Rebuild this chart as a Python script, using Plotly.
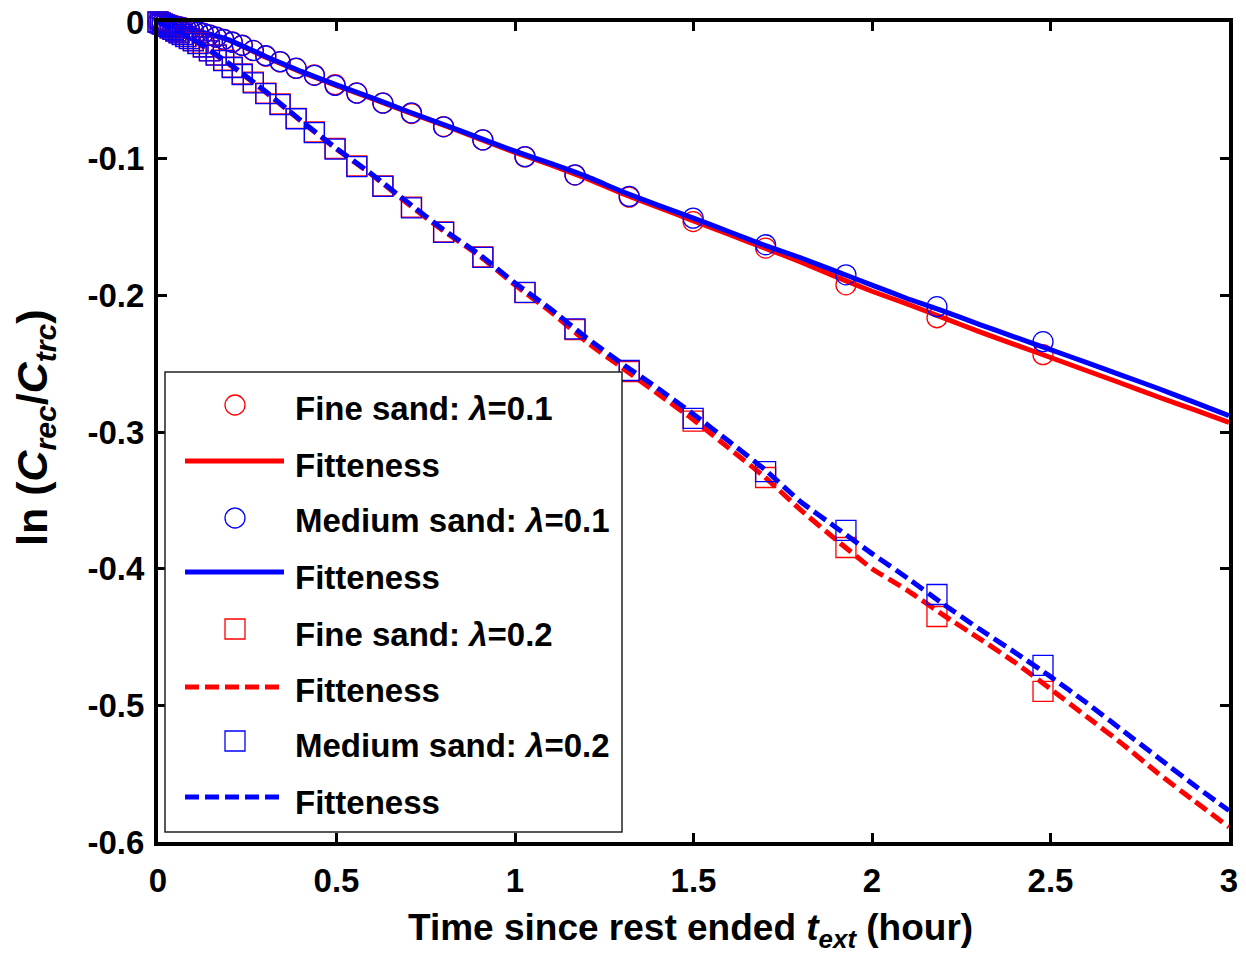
import plotly.graph_objects as go

# ---------------- data ----------------
t_obs = [0.000, 0.006, 0.012, 0.019, 0.026, 0.034, 0.042, 0.050, 0.059, 0.068,
         0.078, 0.088, 0.099, 0.112, 0.127, 0.144, 0.163, 0.184, 0.208, 0.236,
         0.267, 0.302, 0.342, 0.387, 0.438, 0.496, 0.557, 0.630, 0.710, 0.800,
         0.910, 1.028, 1.168, 1.320, 1.499, 1.702, 1.927, 2.182, 2.479]

fine_01 = [0, -0.0003, -0.0006, -0.0010, -0.0014, -0.0019, -0.0024, -0.0029, -0.0034, -0.0040,
           -0.0046, -0.0053, -0.0061, -0.0071, -0.0082, -0.0095, -0.0110, -0.0127, -0.0146, -0.0170,
           -0.0210, -0.0250, -0.0292, -0.0340, -0.0387, -0.0458, -0.0519, -0.0592, -0.0670, -0.0765,
           -0.0863, -0.0987, -0.1120, -0.1282, -0.1460, -0.1654, -0.1923, -0.2164, -0.2434]

medium_01 = [0, -0.0003, -0.0007, -0.0011, -0.0015, -0.0020, -0.0025, -0.0030, -0.0036, -0.0042,
             -0.0048, -0.0055, -0.0063, -0.0072, -0.0083, -0.0096, -0.0111, -0.0128, -0.0148, -0.0171,
             -0.0208, -0.0247, -0.0290, -0.0338, -0.0390, -0.0464, -0.0521, -0.0594, -0.0665, -0.0767,
             -0.0863, -0.0985, -0.1118, -0.1276, -0.1435, -0.1630, -0.1850, -0.2083, -0.2339]

fine_02 = [0, -0.0007, -0.0014, -0.0022, -0.0031, -0.0042, -0.0053, -0.0064, -0.0077, -0.0090,
           -0.0105, -0.0120, -0.0135, -0.0155, -0.0180, -0.0210, -0.0240, -0.0280, -0.0330, -0.0380,
           -0.0440, -0.0520, -0.0600, -0.0705, -0.0805, -0.0925, -0.1053, -0.1199, -0.1355, -0.1535,
           -0.1718, -0.1980, -0.2251, -0.2558, -0.2920, -0.3333, -0.3845, -0.4350, -0.4898]

medium_02 = [0, -0.0007, -0.0015, -0.0023, -0.0032, -0.0043, -0.0054, -0.0066, -0.0079, -0.0092,
             -0.0107, -0.0122, -0.0138, -0.0158, -0.0183, -0.0212, -0.0243, -0.0283, -0.0333, -0.0384,
             -0.0445, -0.0524, -0.0604, -0.0708, -0.0810, -0.0930, -0.1058, -0.1203, -0.1360, -0.1540,
             -0.1722, -0.1978, -0.2245, -0.2550, -0.2900, -0.3290, -0.3720, -0.4189, -0.4708]

t_fit = [0.0, 0.1, 0.2, 0.3, 0.4, 0.5, 0.6, 0.7, 0.8, 0.9, 1.0, 1.1, 1.2, 1.3, 1.4, 1.5,
         1.6, 1.7, 1.8, 1.9, 2.0, 2.1, 2.2, 2.3, 2.4, 2.5, 2.6, 2.7, 2.8, 2.9, 3.0]

fit_fine_01 = [0, -0.0060, -0.0135, -0.0255, -0.0365, -0.0465, -0.0560, -0.0660, -0.0755, -0.0855,
               -0.0955, -0.1045, -0.1145, -0.1255, -0.1355, -0.1455, -0.1555, -0.1655, -0.1755, -0.1865,
               -0.1970, -0.2065, -0.2165, -0.2265, -0.2360, -0.2455, -0.2550, -0.2645, -0.2742, -0.2835,
               -0.2930]

fit_medium_01 = [0, -0.0058, -0.0132, -0.0250, -0.0360, -0.0460, -0.0555, -0.0655, -0.0750, -0.0848,
                 -0.0945, -0.1035, -0.1130, -0.1240, -0.1340, -0.1435, -0.1535, -0.1635, -0.1725, -0.1825,
                 -0.1925, -0.2025, -0.2115, -0.2212, -0.2305, -0.2398, -0.2490, -0.2585, -0.2680, -0.2780,
                 -0.2880]

fit_fine_02 = [0, -0.0135, -0.0310, -0.0510, -0.0725, -0.0930, -0.1120, -0.1330, -0.1530, -0.1710,
               -0.1925, -0.2120, -0.2340, -0.2530, -0.2720, -0.2910, -0.3120, -0.3330, -0.3570, -0.3790,
               -0.4000, -0.4160, -0.4340, -0.4510, -0.4685, -0.4880, -0.5080, -0.5280, -0.5495, -0.5695,
               -0.5890]

fit_medium_02 = [0, -0.0130, -0.0305, -0.0505, -0.0720, -0.0925, -0.1115, -0.1320, -0.1520, -0.1700,
                 -0.1910, -0.2100, -0.2310, -0.2500, -0.2680, -0.2870, -0.3070, -0.3275, -0.3510, -0.3700,
                 -0.3890, -0.4070, -0.4260, -0.4440, -0.4612, -0.4790, -0.4980, -0.5180, -0.5380, -0.5580,
                 -0.5770]

x_ticks = [0, 0.5, 1, 1.5, 2, 2.5, 3]
x_ticklabels = ["0", "0.5", "1", "1.5", "2", "2.5", "3"]
y_ticks = [0, -0.1, -0.2, -0.3, -0.4, -0.5, -0.6]
y_ticklabels = ["0", "-0.1", "-0.2", "-0.3", "-0.4", "-0.5", "-0.6"]

legend_labels = ["Fine sand: <i>λ</i>=0.1", "Fitteness", "Medium sand: <i>λ</i>=0.1", "Fitteness",
                 "Fine sand: <i>λ</i>=0.2", "Fitteness", "Medium sand: <i>λ</i>=0.2", "Fitteness"]

# ---------------- styling ----------------
RED = "#ff0000"
BLUE = "#0000ff"
FONT = "Liberation Sans, Arial, sans-serif"
DASH = "14px,6px"

fig = go.Figure()


def markers(y, color, symbol):
    fig.add_trace(go.Scatter(x=t_obs, y=y, mode="markers", cliponaxis=False, showlegend=False,
                             marker=dict(symbol=symbol, size=20, color=color,
                                         line=dict(color=color, width=1.3))))


def fitline(y, color, dash):
    fig.add_trace(go.Scatter(x=t_fit, y=y, mode="lines", cliponaxis=False, showlegend=False,
                             line=dict(color=color, width=5, dash=dash, shape="spline", smoothing=0.4)))


markers(fine_01, RED, "circle-open")
fitline(fit_fine_01, RED, "solid")
markers(medium_01, BLUE, "circle-open")
fitline(fit_medium_01, BLUE, "solid")
markers(fine_02, RED, "square-open")
fitline(fit_fine_02, RED, DASH)
markers(medium_02, BLUE, "square-open")
fitline(fit_medium_02, BLUE, DASH)

axis_common = dict(showline=True, linecolor="black", linewidth=4, mirror="ticks",
                   ticks="inside", ticklen=9, tickwidth=3, tickcolor="black",
                   showgrid=False, zeroline=False,
                   tickfont=dict(family=FONT, size=33, color="black", weight="bold"))

fig.update_xaxes(range=[0, 3], tickvals=x_ticks, ticktext=x_ticklabels,
                 ticklabelstandoff=6, **axis_common)
fig.update_yaxes(range=[-0.6, 0], tickvals=y_ticks, ticktext=y_ticklabels,
                 ticklabelstandoff=3, **axis_common)

# ---------------- manual legend ----------------
L, R, T, B = 158, 1229, 22, 842


def xp(px):
    return (px - L) / (R - L)


def yp(py):
    return (B - py) / (B - T)


shapes = [dict(type="rect", xref="paper", yref="paper", x0=xp(165), x1=xp(622), y0=yp(832), y1=yp(372),
               line=dict(color="#222222", width=1.5), fillcolor="white", layer="above")]
row_sym = [405, 461, 518, 572, 629, 687, 741, 797]
row_txt = [408, 465, 520, 577, 634, 690, 745, 802]
kinds = [("circle", RED), ("line", RED, "solid"), ("circle", BLUE), ("line", BLUE, "solid"),
         ("rect", RED), ("line", RED, "dash"), ("rect", BLUE), ("line", BLUE, "dash")]
annotations = []
for k, ys, yt, lab in zip(kinds, row_sym, row_txt, legend_labels):
    if k[0] == "line":
        shapes.append(dict(type="line", xref="paper", yref="paper", x0=xp(185),
                           x1=xp(284 if k[2] == "solid" else 280), y0=yp(ys), y1=yp(ys),
                           line=dict(color=k[1], width=5, dash="solid" if k[2] == "solid" else DASH),
                           layer="above"))
    else:
        shapes.append(dict(type=k[0], xref="paper", yref="paper", xsizemode="pixel", ysizemode="pixel",
                           xanchor=xp(235), yanchor=yp(ys), x0=-10, x1=10, y0=-10, y1=10,
                           line=dict(color=k[1], width=1.3), fillcolor="rgba(0,0,0,0)", layer="above"))
    annotations.append(dict(xref="paper", yref="paper", x=xp(293), y=yp(yt), xanchor="left", yanchor="middle",
                            text=lab, showarrow=False,
                            font=dict(family=FONT, size=33, color="black", weight="bold")))

# axis titles
annotations.append(dict(xref="paper", yref="paper", x=xp(690), y=yp(930), xanchor="center", yanchor="middle",
                        text="Time since rest ended <i>t</i><sub><i>ext</i></sub> (hour)", showarrow=False,
                        font=dict(family=FONT, size=37, color="black", weight="bold")))
annotations.append(dict(xref="paper", yref="paper", x=xp(35), y=yp(428), xanchor="center", yanchor="middle",
                        textangle=-90,
                        text="ln (<i>C</i><sub><i>rec</i></sub>/<i>C</i><sub><i>trc</i></sub>)", showarrow=False,
                        font=dict(family=FONT, size=43, color="black", weight="bold")))

fig.update_layout(width=1246, height=966, paper_bgcolor="white", plot_bgcolor="white",
                  margin=dict(l=L, r=1246 - R, t=T, b=966 - B, autoexpand=False),
                  showlegend=False, shapes=shapes, annotations=annotations)

fig.write_html("out.html")
